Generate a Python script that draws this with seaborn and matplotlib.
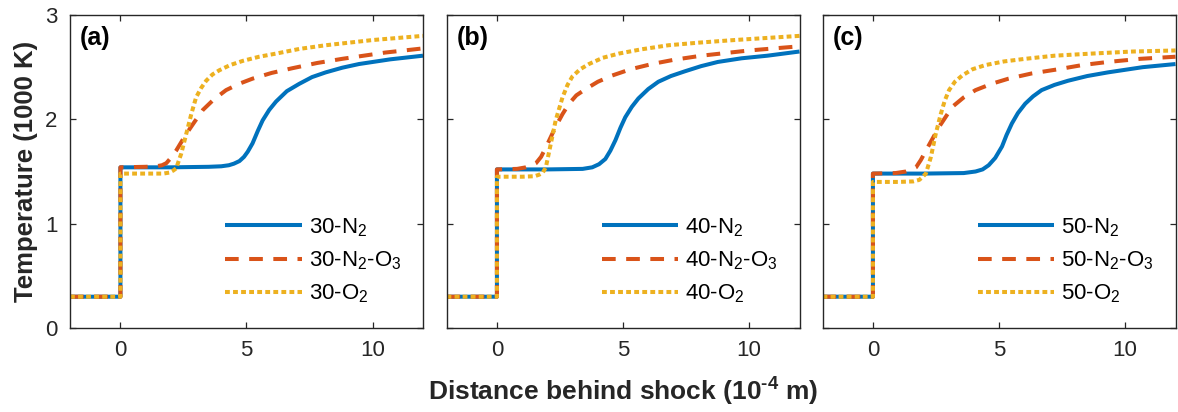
import numpy as np
import pandas as pd
import matplotlib
matplotlib.use("Agg")
import matplotlib.pyplot as plt
import seaborn as sns

# ---------------- data ----------------
panel_labels = ["(a)", "(b)", "(c)"]
prefixes = ["30", "40", "50"]
series_names = ["N2", "N2-O3", "O2"]

# Panel (a)
a_n2_x  = [-2, 0, 0, 2, 3.5, 4.0, 4.3, 4.5, 4.72, 4.9, 5.05, 5.24, 5.45, 5.64, 5.9, 6.17, 6.6, 7.09, 7.6, 8.14, 8.8, 9.46, 10.7, 12]
a_n2_y  = [0.30, 0.30, 1.54, 1.54, 1.545, 1.55, 1.56, 1.575, 1.60, 1.64, 1.69, 1.77, 1.89, 1.99, 2.09, 2.17, 2.27, 2.34, 2.405, 2.45, 2.495, 2.53, 2.575, 2.61]
a_no_x  = [-2, 0, 0, 1.0, 1.42, 1.65, 1.82, 2.0, 2.21, 2.61, 2.95, 3.27, 3.7, 4.19, 4.7, 5.24, 6.0, 6.82, 7.8, 8.8, 10.5, 12]
a_no_y  = [0.30, 0.30, 1.54, 1.545, 1.55, 1.56, 1.58, 1.63, 1.70, 1.86, 1.98, 2.09, 2.19, 2.28, 2.34, 2.39, 2.445, 2.49, 2.54, 2.58, 2.64, 2.68]
a_o2_x  = [-2, 0, 0, 1.0, 1.7, 1.95, 2.1, 2.21, 2.41, 2.61, 2.81, 3.0, 3.2, 3.4, 3.65, 3.92, 4.35, 4.85, 5.5, 6.17, 7.1, 8.14, 10, 12]
a_o2_y  = [0.30, 0.30, 1.48, 1.48, 1.48, 1.49, 1.51, 1.53, 1.67, 1.86, 2.05, 2.21, 2.30, 2.37, 2.43, 2.47, 2.52, 2.56, 2.60, 2.63, 2.675, 2.71, 2.76, 2.80]

# Panel (b)
b_n2_x  = [-2, 0, 0, 2, 3.4, 3.78, 4.05, 4.3, 4.5, 4.7, 4.9, 5.09, 5.35, 5.61, 6.0, 6.4, 6.9, 7.45, 8.1, 8.76, 9.7, 10.73, 12]
b_n2_y  = [0.30, 0.30, 1.52, 1.52, 1.525, 1.54, 1.57, 1.62, 1.70, 1.80, 1.92, 2.02, 2.12, 2.20, 2.29, 2.36, 2.415, 2.46, 2.51, 2.55, 2.585, 2.61, 2.65]
b_no_x  = [-2, 0, 0, 0.8, 1.15, 1.35, 1.55, 1.75, 1.94, 2.33, 2.6, 2.86, 3.15, 3.52, 4.0, 4.57, 5.3, 6.14, 7.0, 8.11, 10, 12]
b_no_y  = [0.30, 0.30, 1.52, 1.525, 1.54, 1.555, 1.58, 1.64, 1.73, 1.93, 2.05, 2.15, 2.23, 2.29, 2.36, 2.42, 2.48, 2.53, 2.57, 2.61, 2.66, 2.70]
b_o2_x  = [-2, 0, 0, 1.0, 1.5, 1.68, 1.82, 1.94, 2.14, 2.33, 2.6, 2.8, 2.99, 3.3, 3.65, 4.2, 4.83, 5.7, 6.8, 8.0, 9.42, 12]
b_o2_y  = [0.30, 0.30, 1.45, 1.45, 1.455, 1.47, 1.49, 1.54, 1.77, 1.99, 2.21, 2.33, 2.41, 2.48, 2.53, 2.59, 2.63, 2.67, 2.71, 2.735, 2.76, 2.80]

# Panel (c)
c_n2_x  = [-2, 0, 0, 2, 3.6, 4.07, 4.35, 4.59, 4.85, 5.12, 5.3, 5.51, 5.75, 6.04, 6.35, 6.69, 7.2, 7.74, 8.5, 9.32, 10.7, 12]
c_n2_y  = [0.30, 0.30, 1.48, 1.48, 1.485, 1.50, 1.52, 1.56, 1.63, 1.74, 1.85, 1.96, 2.06, 2.15, 2.22, 2.28, 2.33, 2.37, 2.415, 2.45, 2.50, 2.53]
c_no_x  = [-2, 0, 0, 0.9, 1.31, 1.5, 1.71, 1.9, 2.10, 2.63, 3.15, 3.6, 4.07, 4.7, 5.38, 6.3, 7.35, 8.3, 9.32, 10.6, 12]
c_no_y  = [0.30, 0.30, 1.48, 1.485, 1.50, 1.515, 1.54, 1.61, 1.70, 1.93, 2.12, 2.21, 2.28, 2.34, 2.39, 2.44, 2.48, 2.52, 2.55, 2.58, 2.60]
c_o2_x  = [-2, 0, 0, 1.0, 1.6, 1.84, 1.98, 2.10, 2.30, 2.49, 2.69, 2.85, 3.02, 3.25, 3.54, 3.95, 4.46, 5.2, 6.04, 7.2, 8.66, 10.3, 12]
c_o2_y  = [0.30, 0.30, 1.40, 1.40, 1.405, 1.42, 1.45, 1.48, 1.64, 1.86, 2.05, 2.18, 2.28, 2.36, 2.42, 2.48, 2.52, 2.555, 2.58, 2.61, 2.63, 2.65, 2.66]

x_ticks = [0, 5, 10]
y_ticks = [0, 1, 2, 3]

panels_data = [
    [(a_n2_x, a_n2_y), (a_no_x, a_no_y), (a_o2_x, a_o2_y)],
    [(b_n2_x, b_n2_y), (b_no_x, b_no_y), (b_o2_x, b_o2_y)],
    [(c_n2_x, c_n2_y), (c_no_x, c_no_y), (c_o2_x, c_o2_y)],
]

# ---------------- style ----------------
sns.set_style("ticks")
plt.rcParams["font.family"] = ["Liberation Sans", "DejaVu Sans"]
plt.rcParams["mathtext.fontset"] = "custom"
plt.rcParams["mathtext.rm"] = "Liberation Sans"
plt.rcParams["mathtext.it"] = "Liberation Sans:italic"
plt.rcParams["mathtext.bf"] = "Liberation Sans:bold"

colors = ["#0072BD", "#D95319", "#EDB120"]
dash_specs = ["", (3.4, 2.6), (1.2, 0.8)]

def label_for(prefix, name):
    if name == "N2":
        return prefix + r"-N$_\mathregular{2}$"
    if name == "N2-O3":
        return prefix + r"-N$_\mathregular{2}$-O$_\mathregular{3}$"
    return prefix + r"-O$_\mathregular{2}$"

fig = plt.figure(figsize=(11.78, 4.12), dpi=100)
W, H = 1178, 412
lefts = [70, 446.5, 822.5]
axw, top, bot = 353, 15, 328
axes = [fig.add_axes([l / W, (H - bot) / H, axw / W, (bot - top) / H]) for l in lefts]

edge = "#262626"
for i, ax in enumerate(axes):
    rows = []
    for s, (xs, ys) in enumerate(panels_data[i]):
        lab = label_for(prefixes[i], series_names[s])
        for k, (xv, yv) in enumerate(zip(xs, ys)):
            rows.append({"series": lab, "x": xv, "y": yv, "order": k})
    df = pd.DataFrame(rows)
    labs = [label_for(prefixes[i], n) for n in series_names]
    sns.lineplot(data=df, x="x", y="y", hue="series", style="series",
                 hue_order=labs, style_order=labs,
                 palette=dict(zip(labs, colors)),
                 dashes=dict(zip(labs, dash_specs)),
                 sort=False, estimator=None, linewidth=2.9, ax=ax)
    for ln in ax.get_lines():
        ln.set_solid_capstyle("butt")
        ln.set_dash_capstyle("butt")
        ln.set_solid_joinstyle("round")
    ax.set_xlim(-2, 12)
    ax.set_ylim(0, 3)
    ax.set_xticks(x_ticks)
    ax.set_yticks(y_ticks)
    ax.tick_params(direction="in", length=4, width=0.9, color=edge,
                   top=True, right=True, labelsize=16, labelcolor="#262626", pad=9)
    if i > 0:
        ax.set_yticklabels([])
    for sp in ax.spines.values():
        sp.set_visible(True)
        sp.set_linewidth(1.0)
        sp.set_color(edge)
    ax.set_xlabel("")
    ax.set_ylabel("")
    ax.text(0.028, 0.925, panel_labels[i], transform=ax.transAxes,
            fontsize=18, fontweight="bold", va="center", ha="left", color="black")
    leg = ax.legend(loc="upper left", bbox_to_anchor=(0.44, 0.357),
                    frameon=False, fontsize=16, handlelength=3.45,
                    handletextpad=0.3, labelspacing=0.47, borderpad=0,
                    borderaxespad=0)
    for t in leg.get_texts():
        t.set_color("black")

axes[0].set_ylabel("Temperature (1000 K)", fontsize=18.5, fontweight="bold",
                   color="#262626", labelpad=5)
axes[1].set_xlabel("Distance behind shock (10$^{\\mathbf{\u20104}}$ m)", fontsize=19,
                   fontweight="bold", color="#262626", labelpad=10)

fig.savefig("out.png", dpi=100)
